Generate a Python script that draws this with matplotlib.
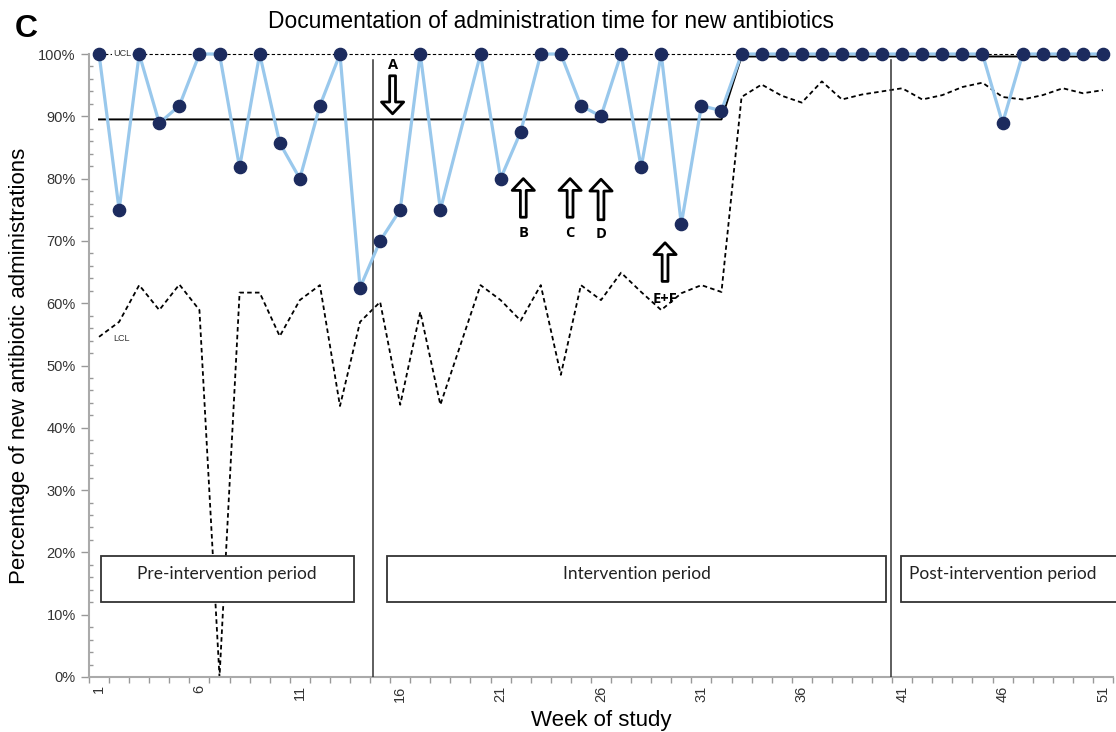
import numpy as np
import matplotlib.pyplot as plt
from matplotlib.patches import Rectangle

plt.rcParams['font.family'] = ['Liberation Sans', 'DejaVu Sans']

# weekly data (percent), week 19 has no data
weeks = np.arange(1, 52)
pct = [100, 75, 100, 88.9, 91.7, 100, 100, 81.8, 100, 85.7, 80, 91.7, 100, 62.5, 70, 75, 100, 75, np.nan,
       100, 80, 87.5, 100, 100, 91.7, 90, 100, 81.8, 100, 72.7, 91.7, 90.9,
       100, 100, 100, 100, 100, 100, 100, 100, 100, 100, 100, 100, 100, 88.9, 100, 100, 100, 100, 100]
lcl = [54.6, 57.0, 62.9, 58.9, 63.0, 58.9, 0, 61.7, 61.7, 54.7, 60.5, 62.9, 43.5, 57.0, 60.2, 43.7, 58.6, 43.7, np.nan,
       62.9, 60.5, 57.2, 62.9, 48.5, 62.9, 60.5, 64.9, 61.8, 58.9, 61.6, 62.9, 61.8,
       93.1, 95.1, 93.3, 92.2, 95.6, 92.7, 93.5, 94.0, 94.5, 92.7, 93.4, 94.7, 95.4, 93.1, 92.7, 93.4, 94.5, 93.7, 94.2]
ucl = [100] * 51
cl = [89.5] * 32 + [99.6] * 19

phase_breaks = [14.65, 40.43]
periods = ['Pre-intervention period', 'Intervention period', 'Post-intervention period']
period_spans = [(1.1, 13.7), (15.34, 40.2), (40.94, 53)]
period_text_x = [7.37, 27.8, 46.0]

arrow_labels = ['A', 'B', 'C', 'D', 'E+F']
arrow_x = [15.62, 22.13, 24.46, 26.0, 29.19]
arrow_tip = [90.4, 80.0, 80.0, 79.9, 69.7]
arrow_tail = [96.5, 73.8, 73.8, 73.4, 63.5]
arrow_text_y = [98.2, 71.3, 71.3, 71.1, 60.7]

pct = np.array(pct, dtype=float)
lcl = np.array(lcl, dtype=float)
ok = ~np.isnan(pct)
okl = ~np.isnan(lcl)

fig = plt.figure(figsize=(11.16, 7.32), dpi=100)
ax = fig.add_axes([89 / 1116, 1 - 677 / 732, 1024 / 1116, 623 / 732])

ax.plot(weeks[okl], lcl[okl], color='black', ls=(0, (2.5, 1.8)), lw=1.3, zorder=2)
ax.plot(weeks, ucl, color='black', ls=(0, (3, 2)), lw=0.8, zorder=2, clip_on=False)
ax.plot(weeks, cl, color='black', lw=1.4, zorder=3, clip_on=False)
ax.plot(weeks[ok], pct[ok], color='#99c8ec', lw=2.3, zorder=4, clip_on=False)
ax.plot(weeks[ok], pct[ok], 'o', color='#1c2b5e', ms=8.8, zorder=5, clip_on=False)

ax.text(1.7, 100, 'UCL', fontsize=6.5, color='#333333', va='center', ha='left', zorder=3,
        bbox=dict(fc='white', ec='none', pad=0.5))
ax.text(1.7, 54.3, 'LCL', fontsize=6.5, color='#333333', va='center', ha='left', zorder=3)

for xb in phase_breaks:
    ax.plot([xb, xb], [0, 99], color='#333333', lw=1.1, zorder=3)

for (x0, x1), txt, tx in zip(period_spans, periods, period_text_x):
    ax.add_patch(Rectangle((x0, 12.0), x1 - x0, 7.4, fc='white', ec='#333333', lw=1.3,
                           zorder=6, clip_on=False))
    ax.text(tx, 16.5, txt, fontsize=12.5, family='Lato', color='#222222', ha='center', va='center', zorder=7)

for lab, x, tip, tail, ty in zip(arrow_labels, arrow_x, arrow_tip, arrow_tail, arrow_text_y):
    ax.annotate('', xy=(x, tip), xytext=(x, tail),
                arrowprops=dict(arrowstyle='simple,head_length=0.85,head_width=1.6,tail_width=0.42',
                                fc='white', ec='black', lw=2.0, shrinkA=0, shrinkB=0,
                                mutation_scale=10), zorder=6)
    ax.text(x, ty, lab, fontsize=10.5, fontweight='bold', family='Open Sans', ha='center', va='center', zorder=6)

ax.set_xlim(0.5, 51.5)
ax.set_ylim(0, 100)
ax.set_xticks(np.arange(1, 52, 5))
ax.set_xticklabels([str(w) for w in range(1, 52, 5)], rotation=90, fontsize=10.5, color='#333333')
ax.set_xticks(np.arange(0.5, 52, 1), minor=True)
ax.tick_params(axis='x', which='major', length=0, pad=6)
ax.tick_params(axis='x', which='minor', length=4, color='#999999', width=1)
ax.set_yticks(np.arange(0, 101, 10))
ax.set_yticklabels([f'{v}%' for v in range(0, 101, 10)], fontsize=10.5, color='#333333')
ax.set_yticks(np.arange(0, 101, 2), minor=True)
ax.tick_params(axis='y', which='major', length=6, color='#999999', width=1)
ax.tick_params(axis='y', which='minor', length=3, direction='in', color='#999999', width=1)

for s in ['top', 'right']:
    ax.spines[s].set_visible(False)
for s in ['left', 'bottom']:
    ax.spines[s].set_color('#aaaaaa')
    ax.spines[s].set_linewidth(1.5)

ax.set_xlabel('Week of study', fontsize=16, labelpad=6)
ax.set_ylabel('Percentage of new antibiotic administrations', fontsize=16, labelpad=6)
fig.text(551 / 1116, 1 - 21 / 732, 'Documentation of administration time for new antibiotics',
         fontsize=16.4, ha='center', va='center')
fig.text(15 / 1116, 1 - 29 / 732, 'C', fontsize=23, fontweight='bold', ha='left', va='center')

fig.savefig('out.png', dpi=100)
